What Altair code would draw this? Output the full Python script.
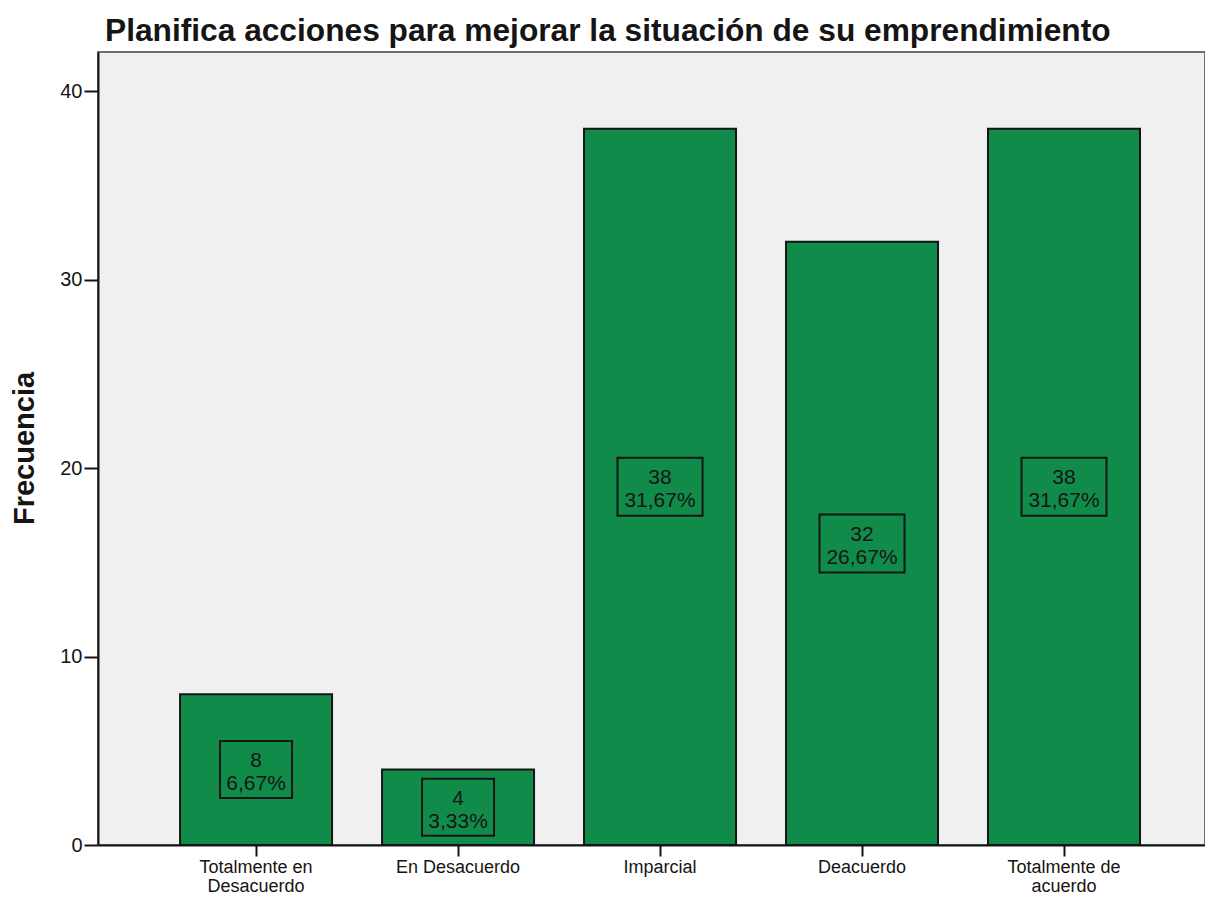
import altair as alt
import pandas as pd

categories = ["Totalmente en\nDesacuerdo", "En Desacuerdo", "Imparcial", "Deacuerdo", "Totalmente de\nacuerdo"]
counts = [8, 4, 38, 32, 38]
percents = ["6,67%", "3,33%", "31,67%", "26,67%", "31,67%"]
y_ticks = [0, 10, 20, 30, 40]

df = pd.DataFrame({"cat": categories, "n": counts, "pct": percents})

FONT = "Liberation Sans"
GREEN = "#118b4a"
INK = "#151515"

x_enc = alt.X(
    "cat:N",
    sort=categories,
    scale=alt.Scale(paddingInner=0.2475, paddingOuter=0.364, align=0.558),
    axis=alt.Axis(
        title=None, labelAngle=0, labelExpr="split(datum.label, '\\n')",
        labelFont=FONT, labelFontSize=18, labelLineHeight=19, labelBaseline="top",
        labelColor=INK, labelPadding=2, tickSize=11, tickWidth=2, tickColor=INK,
        domainColor=INK, domainWidth=2,
    ),
)

y_scale = alt.Scale(domain=[0, 42.07], nice=False, zero=True)

bars = alt.Chart(df).mark_bar(fill=GREEN, stroke=INK, strokeWidth=2).encode(
    x=x_enc,
    y=alt.Y(
        "n:Q", scale=y_scale,
        axis=alt.Axis(
            values=y_ticks, grid=False, title="Frecuencia", titleFont=FONT,
            titleFontSize=29, titleFontWeight="bold", titleColor=INK, titleAngle=270,
            titleX=-74, titleY=396, titleAlign="center", titleBaseline="middle",
            labelFont=FONT, labelFontSize=20, labelColor=INK, labelPadding=2,
            tickSize=14, tickWidth=2, tickColor=INK, domainColor=INK, domainWidth=2,
        ),
    ),
)

base = alt.Chart(df).transform_calculate(
    mid="datum.n / 2", lbl="datum.n + '\\n' + datum.pct"
)

box_small = base.transform_filter("length(datum.pct) <= 5").mark_point(
    shape="M-1,-0.792H1V0.792H-1Z", size=5184, filled=False,
    stroke=INK, strokeWidth=2, opacity=1,
).encode(x=alt.X("cat:N", sort=categories), y=alt.Y("mid:Q", scale=y_scale))

box_big = base.transform_filter("length(datum.pct) > 5").mark_point(
    shape="M-1,-0.682H1V0.682H-1Z", size=7225, filled=False,
    stroke=INK, strokeWidth=2, opacity=1,
).encode(x=alt.X("cat:N", sort=categories), y=alt.Y("mid:Q", scale=y_scale))

texts = base.mark_text(
    font=FONT, fontSize=21, lineHeight=23, lineBreak="\n", color=INK,
    align="center", baseline="middle", dy=-8.5,
).encode(x=alt.X("cat:N", sort=categories), y=alt.Y("mid:Q", scale=y_scale), text="lbl:N")

chart = alt.layer(bars, box_small, box_big, texts).properties(
    width=1107, height=793,
    autosize=alt.AutoSizeParams(type="none"),
    padding={"left": 90, "top": 44, "right": 0, "bottom": 52},
    title=alt.TitleParams(
        "Planifica acciones para mejorar la situación de su emprendimiento",
        font=FONT, fontSize=31.7, fontWeight="bold", color=INK,
        anchor="start", frame="group", dx=7, offset=4,
    ),
).configure(background="white").configure_view(fill="#f0f0f0", stroke="#6e6e6e", strokeWidth=2)

chart.save("out.html", embed_options={"renderer": "svg", "actions": False})
